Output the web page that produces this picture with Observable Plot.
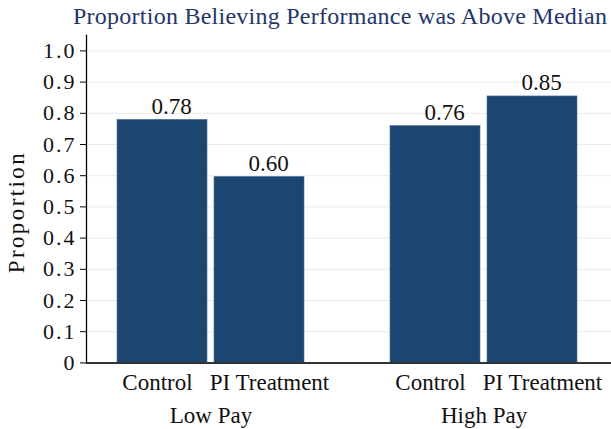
<!DOCTYPE html>
<html>
<head>
<meta charset="utf-8">
<script src="https://cdn.jsdelivr.net/npm/d3@7"></script>
<script src="https://cdn.jsdelivr.net/npm/@observablehq/plot@0.6"></script>
<style>
  body { margin: 0; background: #fff; }
  #wrap { position: relative; width: 611px; height: 429px; overflow: hidden; font-family: "Liberation Serif", "Times New Roman", serif; }
  #title { position: absolute; left: 73px; top: 1px; font-size: 24px; letter-spacing: 0.25px; color: #24366a; white-space: nowrap; line-height: 30px; }
  #chart { position: absolute; left: 0; top: 0; }
  #chart svg, #chart svg text { font-family: "Liberation Serif", "Times New Roman", serif !important; }
  #chart svg .ylabel text { letter-spacing: 2.4px; }
</style>
</head>
<body>
<div id="wrap">
  <div id="chart"></div>
  <div id="title">Proportion Believing Performance was Above Median</div>
</div>
<script>
const payGroups = ["Low Pay", "High Pay"];
const arms = ["Control", "PI Treatment"];
const lowPayValues = [0.779, 0.596];
const highPayValues = [0.759, 0.854];
const yTicks = [0, 0.1, 0.2, 0.3, 0.4, 0.5, 0.6, 0.7, 0.8, 0.9, 1.0];
const yLabel = "Proportion";

const data = [];
arms.forEach((a, i) => data.push({pay: payGroups[0], arm: a, value: lowPayValues[i]}));
arms.forEach((a, i) => data.push({pay: payGroups[1], arm: a, value: highPayValues[i]}));

const serif = "Liberation Serif";
const chart = Plot.plot({
  width: 611,
  height: 429,
  marginLeft: 86,
  marginRight: 1,
  marginTop: 34.8,
  marginBottom: 66.6,
  style: { fontFamily: "'Liberation Serif', 'Times New Roman', serif", background: "transparent" },
  fx: { domain: payGroups, range: [86, 632], padding: 0, axis: null, label: null },
  x: { domain: arms, paddingInner: 0.072, paddingOuter: 0.443, align: 0.366, axis: null, label: null },
  y: { domain: [0, 1.05], axis: null, label: null },
  marks: [
    Plot.ruleY(yTicks.filter(t => t > 0), { stroke: "#ebebeb", strokeWidth: 1 }),
    Plot.barY(data, { fx: "pay", x: "arm", y: "value", fill: "#1c4670", stroke: "#4a719c", strokeWidth: 0.6 }),
    Plot.text(data, { fx: "pay", x: "arm", y: "value", text: d => d.value.toFixed(2), lineAnchor: "bottom", dx: 9, dy: -6, fontSize: 23, fontFamily: serif, fill: "#111" }),
    Plot.axisX({ ticks: ["Control"], anchor: "bottom", tickSize: 0, tickPadding: 11, dx: -5, fontSize: 23, fontFamily: serif, fill: "#111", label: null }),
    Plot.axisX({ ticks: ["PI Treatment"], anchor: "bottom", tickSize: 0, tickPadding: 11, dx: 10, fontSize: 23, fontFamily: serif, fill: "#111", label: null }),
    Plot.axisFx({ anchor: "bottom", tickSize: 0, tickPadding: 44, dx: -12, fontSize: 23, fontFamily: serif, fill: "#111", label: null }),
    Plot.ruleY([0], { stroke: "#333", strokeWidth: 2 }),
    Plot.frame({ anchor: "left", stroke: "#000", strokeWidth: 1.3, facetAnchor: "left" }),
    Plot.axisY({ ticks: yTicks, tickFormat: d => d === 0 ? "0" : d.toFixed(1), tickSize: 6, tickPadding: 4, fontSize: 22, fontFamily: serif, fill: "#111", stroke: "#000", label: null }),
    Plot.text([yLabel], { frameAnchor: "left", text: d => d, rotate: -90, textAnchor: "middle", lineAnchor: "middle", dx: -69.5, dy: 13, fontSize: 23, fontFamily: serif, fill: "#111", facet: "super", className: "ylabel" })
  ]
});
d3.select(chart).selectAll('g[aria-label="y-axis tick label"] text').attr("letter-spacing", "2px");
document.getElementById("chart").append(chart);
</script>
</body>
</html>
